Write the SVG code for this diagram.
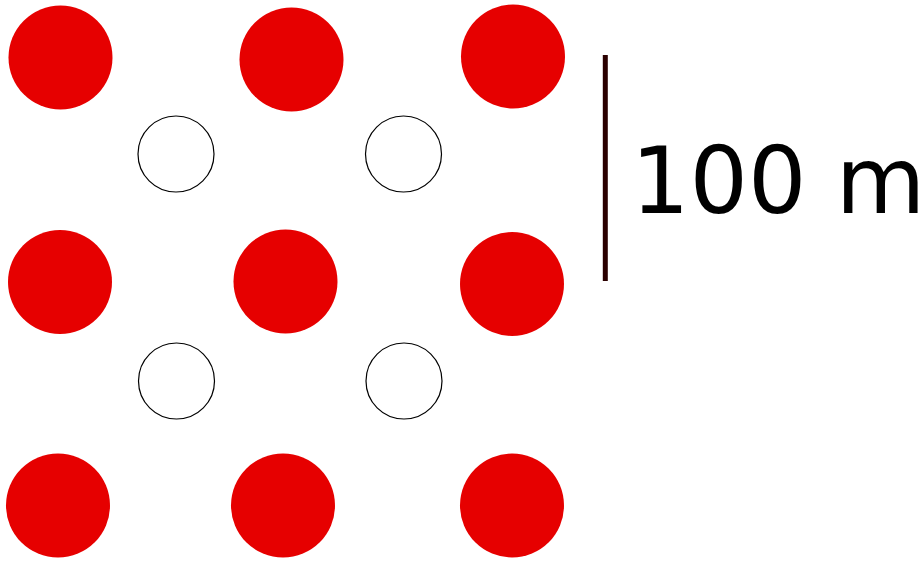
<svg xmlns="http://www.w3.org/2000/svg" width="923" height="561" viewBox="0 0 923 561">
<style>
.red{fill:#e60000;stroke:none}
.hole{fill:#fff;stroke:#000;stroke-width:1.2}
.lbl{font-family:"DejaVu Sans",sans-serif;font-size:92px;fill:#000}
</style>
<rect width="923" height="561" fill="#fff"/>
<g id="red-dots">
<circle id="r11" class="red" cx="60.5" cy="57.5" r="52"/>
<circle id="r12" class="red" cx="291.5" cy="59.5" r="52"/>
<circle id="r13" class="red" cx="513" cy="56.5" r="52"/>
<circle id="r21" class="red" cx="60" cy="282" r="52"/>
<circle id="r22" class="red" cx="285.5" cy="281.5" r="52"/>
<circle id="r23" class="red" cx="512" cy="284" r="52"/>
<circle id="r31" class="red" cx="58" cy="505.5" r="52"/>
<circle id="r32" class="red" cx="283" cy="505.5" r="52"/>
<circle id="r33" class="red" cx="512" cy="505.5" r="52"/>
</g>
<g id="holes">
<circle id="h11" class="hole" cx="176" cy="154" r="38"/>
<circle id="h12" class="hole" cx="403.5" cy="154" r="38"/>
<circle id="h21" class="hole" cx="176.5" cy="381" r="38"/>
<circle id="h22" class="hole" cx="404" cy="381" r="38"/>
</g>
<g id="scale">
<line x1="605.3" y1="55" x2="605.3" y2="281" stroke="#2b0000" stroke-width="5"/>
<text class="lbl" x="631" y="212.5">100 m</text>
</g>
</svg>
